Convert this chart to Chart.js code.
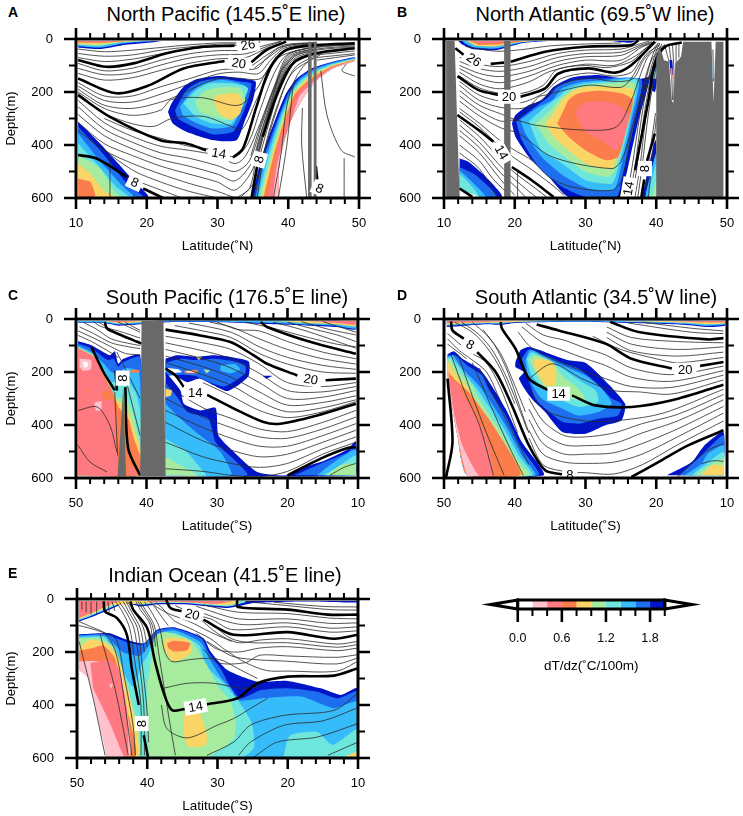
<!DOCTYPE html>
<html>
<head>
<meta charset="utf-8">
<script src="https://cdn.jsdelivr.net/npm/chart.js@4"></script>
<style>
  html, body { margin: 0; background: #fff; }
  body { position: relative; width: 743px; height: 816px; overflow: hidden; font-family: "Liberation Sans", sans-serif; }
  canvas { position: absolute; }
  .title, .letter { position: absolute; white-space: nowrap; color: #000; line-height: 1; }
  .title { font-size: 20px; transform: translate(-50%, -50%); }
  .letter { font-size: 14px; font-weight: bold; transform: translateY(-50%); }
</style>
</head>
<body>
<script>
"use strict";
//gradient bins, lower bound of each class
const binStarts = [0, 0.2, 0.4, 0.6, 0.8, 1.0, 1.2, 1.4, 1.6, 1.8];
const binColors = ["#ffffff", "#ffc2cc", "#ff7a80", "#fa7d4b", "#fad566", "#a6eb9e", "#6ee6dc", "#36bcfa", "#1e6ef0", "#0014c8"];
const barTicks = [0, 0.2, 0.4, 0.6, 0.8, 1.0, 1.2, 1.4, 1.6, 1.8, 2.0];
const latTicks = [10, 20, 30, 40, 50];
const depthTicks = [0, 200, 400, 600];

//panel A, all pairs are latitude, depth
const aFills = [
  [1.8, [10.3,8, 22,8, 21,12, 17,22, 13.5,38, 10.3,32]],
  [1.4, [10.3,8, 21,8, 17,16, 13.5,32, 10.3,27]],
  [1.0, [10.3,8, 19,8, 16,14, 13,26, 10.3,22]],
  [0.8, [10.3,8, 19,8, 16,12, 13,20, 10.3,18]],
  [0.6, [10.3,8, 17,8, 14,14, 10.3,14]],
  [0.4, [11,8, 16,8, 15,10, 12,12]],
  [1.8, [23,275, 23.5,243, 25.2,180, 27,152, 30.3,140, 33.6,150, 35.4,161, 35,231, 33.9,306, 32.7,382, 29.4,382, 25.6,350, 23.7,319, 23,275]],
  [1.6, [24,268, 25.6,193, 27.5,161, 30.3,149, 33.4,161, 34.8,168, 34.3,231, 33.2,306, 32.2,350, 29.4,360, 26.1,325, 24.4,299, 24,268]],
  [1.4, [24.7,256, 26.1,205, 28,168, 30.8,155, 34.1,180, 33.4,256, 32.2,325, 29.4,338, 26.6,312, 25.1,287, 24.7,256]],
  [1.2, [25.2,243, 27,193, 28.9,168, 32.2,168, 34.3,186, 33.4,249, 32,319, 29.4,319, 27,294, 25.2,243]],
  [1.0, [26.8,237, 28,199, 29.9,183, 33.2,186, 33.9,231, 32.9,287, 31.7,306, 29.4,294, 27.5,275, 26.8,237]],
  [0.8, [29.4,231, 29.9,212, 32.7,205, 33.5,231, 33.2,281, 32,304, 30.3,281, 29.4,231]],
  [1.8, [10.3,312, 13.4,394, 18.1,533, 20.2,596, 10.3,596]],
  [1.6, [10.3,331, 13.4,420, 17.6,558, 19.5,596, 10.3,596]],
  [1.4, [10.3,356, 12.9,445, 16.7,558, 18.1,596, 10.3,596]],
  [1.2, [10.3,394, 12.9,470, 15.7,558, 17.4,596, 10.3,596]],
  [1.0, [10.3,438, 13.4,489, 15.5,577, 16.4,596, 10.3,596]],
  [0.8, [10.3,470, 12,508, 13.9,571, 15.3,596, 10.3,596]],
  [0.6, [10.3,527, 12,539, 12.7,596, 10.3,596]],
];
const aFrontBase = [38.6,596, 38.8,457, 40.2,319, 41.9,231, 44,155, 46.3,111, 49.4,82];
const aFront = [
  [1.8, [34.8,600, 36.4,432, 38.3,294, 39.7,205, 41.2,149, 43.3,111, 46.3,86, 49.4,69]],
  [1.6, [35.1,600, 36.7,432, 38.6,294, 40,205, 41.5,149, 43.5,113, 46.3,88, 49.4,71]],
  [1.4, [35.4,600, 37,432, 38.8,294, 40.2,205, 41.7,152, 43.7,116, 46.3,91, 49.4,73]],
  [1.2, [35.7,600, 37.3,432, 39,294, 40.4,205, 41.9,155, 43.9,120, 46.3,94, 49.4,75]],
  [1.0, [36,600, 37.6,432, 39.2,294, 40.6,205, 42.1,158, 44,124, 46.3,96, 49.4,76]],
  [0.8, [36.2,600, 37.8,432, 39.4,294, 40.8,205, 42.2,162, 44.1,128, 46.3,99, 49.4,77]],
  [0.6, [36.5,600, 38,432, 39.6,294, 41,205, 42.4,166, 44.2,132, 46.3,102, 49.4,78]],
  [0.4, [37,600, 38.1,480, 38.6,400, 40,294, 41.3,205, 42.6,170, 44.3,136, 46.3,105, 49.4,80]],
  [0.2, [37.8,600, 38.4,480, 39.4,380, 40.6,294, 41.6,215, 43,175, 44.5,142, 46.3,108, 49.4,81]],
];
const aThick = [
  [10.3,79, 14.3,105, 18.1,92, 22.8,54, 27.5,31, 32.4,25],
  [10.3,149, 15.7,205, 20.4,174, 25.2,111, 31,83],
  [34.8,88, 36.9,42, 39.7,10],
  [10.3,212, 14.8,294, 21.9,382, 25.6,394, 28.4,420],
  [32.2,447, 33.6,413, 35.5,256, 37.4,111, 39.7,42, 44,23, 49.4,16],
  [10.3,438, 12.9,451, 17.2,520],
  [19.5,564, 22.3,600],
  [34.8,600, 35.6,480],
  [36.4,369, 38.3,218, 40.7,92, 44,54, 49.4,35],
  [43.9,480, 44.1,530],
];
const aThin = [
  [10.3,38, 14,48, 18,42, 22,32, 26,22, 30,15, 33,14, 36,10],
  [10.3,55, 14,65, 18,60, 22,42, 26,30, 30,20, 33,18, 36,12],
  [10.3,70, 14,85, 18,76, 22,56, 26,38, 30,27, 33,24],
  [10.3,92, 14,120, 18,110, 22,80, 26,56, 30,44, 34,42, 37,22, 39,8],
  [10.3,111, 14,135, 18,128, 22,98, 26,72, 30,60, 34,56, 37,28, 39,10],
  [10.3,130, 14,155, 18,146, 22,118, 26,92, 30,75, 34,70, 37,34, 39.5,12],
  [10.3,165, 14,215, 18,215, 22,180, 26,150, 30,118, 33,112, 35.5,112, 37,70, 39,30, 44,12],
  [10.3,178, 14,232, 18,238, 22,208, 26,170, 30,132, 33,125, 35.8,130, 37.5,80, 39.5,34, 44,15],
  [10.3,190, 14,250, 18,262, 22,238, 24,218, 27,180, 30,150, 33,148, 36,150, 37.8,90, 39.7,38, 44,18],
  [10.3,200, 14,262, 18,288, 22,268, 23.5,228, 28,222, 32,250, 33.5,245, 35.5,190, 37,120, 39,50, 44,20],
  [10.3,205, 14,280, 18,320, 21,330, 23.5,300, 28,292, 32,330, 33.5,340, 35.5,230, 36.8,160, 38.6,70, 44,26],
  [14,300, 18,345, 22,375, 26,405, 30,420, 32.5,445, 34.4,390, 36,270, 38,130, 39.9,58, 44,30, 49.4,20],
  [10.3,232, 14,316, 18,368, 22,405, 26,420, 30,440, 32.5,470, 34,440, 36,320, 38,180, 40,60, 44,32, 49.4,22],
  [10.3,256, 14,340, 18,390, 22,430, 26,450, 30,478, 32.5,500, 34.5,460, 36.3,320, 38.3,170, 40.3,68, 44,38, 49.4,26],
  [10.3,285, 14,365, 18,415, 22,455, 26,480, 30,510, 32.5,535, 35,460, 36.5,340, 38.6,170, 40.6,72, 44,42, 49.4,30],
  [10.3,315, 14,395, 18,440, 22,480, 26,510, 30,540, 32.5,570, 35,490, 36.8,330, 39,160, 40.9,80, 44,48],
  [10.3,345, 14,420, 18,470, 22,510, 26,545, 30,575, 32.5,600],
  [13,400, 18,495, 22,540, 26,575, 30,600],
  [17,520, 22,570, 25,600],
  [33.2,600, 35.2,540, 36,440, 37.8,270, 39.3,140, 41,75],
  [32.7,600, 34.6,560, 35.8,390, 37.6,240, 39,120, 40.8,68],
  [37.9,600, 39,430, 39.8,250, 41,150, 42.6,90, 44.5,60],
  [14.8,440, 14.8,596],
  [38.6,600, 39.8,400, 40.7,168],
  [42.6,596, 41.9,400, 42,260],
  [44.6,120, 45.5,290, 47.5,420, 49.4,445],
  [47.9,450, 47.9,596],
  [48.2,95, 47.6,120, 49.4,140],
  [34.7,440, 36.15,320, 38.15,175, 40.15,64, 44,35],
  [34.9,470, 36.4,330, 38.45,170, 40.45,70, 44,40],
  [35.2,480, 36.65,335, 38.8,165, 40.75,76, 44,45],
  [35.5,470, 36.95,320, 39.1,150, 41,80, 44,50],
  [35.6,600, 36.8,400, 38.6,240, 40.9,110, 44,60],
  [35.2,600, 36.6,430, 38.4,265, 40.5,130, 44,66],
  [34.9,100, 37,60, 39.5,22, 44,14],
  [35.2,110, 37.2,70, 39.7,26, 44,16],
  [44,60, 49.4,45],
  [44,70, 49.4,55],
  [44,80, 49.4,60],
];
const aGray = [
  [42.8,10, 43.3,10, 43.3,596, 42.8,596],
  [43.6,10, 44,10, 44,596, 43.6,596],
];
const aLabels = [[34.3,23,"26",-10], [33,92,"20",10], [30.2,432,"14",10], [35.9,455,"8",-75], [18.3,542,"8",25], [44.4,564,"8",25]];

//panel B
const bFills = [
  [1.8, [12,8, 24.5,8, 21,16, 17.3,42, 14,38, 12.5,20]],
  [1.4, [12.6,8, 24,8, 21,13, 17.3,36, 14.2,32, 13,18]],
  [0.8, [13.2,8, 22.5,8, 20,14, 17.3,28, 14.5,26]],
  [0.6, [13.5,8, 21,8, 18,20, 15,22]],
  [0.4, [13.8,8, 20.5,8, 17.5,14, 15,16]],
  [1.8, [33.8,8, 37,8, 36.5,14, 35,12]],
  [1.8, [19.6,319, 20.1,287, 22,249, 23.8,231, 25.5,180, 28.1,145, 31.8,136, 35.1,149, 37.9,150, 39.1,145, 37.5,306, 35.6,533, 34.9,596, 27.6,596, 24.8,520, 22,445, 20.1,369, 19.6,319]],
  [1.6, [20.2,312, 22.9,256, 24.8,218, 26,180, 28.5,155, 32.3,149, 37.9,153, 37,306, 35.1,533, 34.4,596, 30,596, 26.7,558, 23.4,483, 21,382, 20.2,312]],
  [1.4, [20.8,306, 23.4,256, 25.3,231, 26.7,186, 29,165, 32.8,155, 37.5,153, 36.5,306, 34.6,533, 33.9,571, 30.4,564, 27.1,520, 23.8,445, 21.5,357, 20.8,306]],
  [1.2, [22,312, 24.3,256, 26.2,218, 27.6,186, 30,168, 33.2,161, 37.2,155, 36.3,306, 34.4,508, 33.7,546, 30,533, 26.7,470, 23.8,420, 22,312]],
  [1.0, [22.9,319, 24.8,275, 26.7,218, 28.1,193, 30,174, 33.7,168, 37,168, 36,306, 34.2,495, 33.2,520, 30,501, 27.1,445, 24.8,394, 22.9,319]],
  [0.8, [24.3,319, 25.3,287, 26.7,231, 28.3,193, 30.4,180, 34.2,180, 36.8,193, 35.8,331, 33.9,483, 32.8,489, 30,470, 27.6,420, 25.5,369, 24.3,319]],
  [0.6, [26,319, 26.7,281, 27.6,231, 29,205, 31.8,195, 35.1,205, 36.7,231, 35.6,357, 34.6,445, 32.8,457, 30,420, 27.6,369, 26,319]],
  [0.4, [28.6,281, 29,256, 30.4,237, 32.8,237, 35.1,256, 36.1,287, 35.8,331, 35.1,394, 34.2,420, 32.3,382, 30,350, 28.6,281]],
  [1.8, [12.2,451, 13.5,464, 15.9,520, 18.2,596, 12.2,596]],
  [1.6, [12.2,483, 14.5,514, 17.5,596, 12.2,596]],
  [1.4, [12.2,495, 13.5,527, 15.9,596, 12.2,596]],
  [1.2, [12.2,508, 14,558, 14.9,596, 12.2,596]],
  [0, [12.2,570, 15,596, 12.2,596]],
  [1.8, [38,596, 39.9,380, 40,596]],
  [1.4, [38.4,596, 40,430, 40,596]],
  [1.2, [38.8,596, 40,470, 40,596]],
  [1.0, [39.4,596, 40,530, 40,596]],
  [1.8, [39,145, 40.4,75, 40,180, 39.8,200, 39.4,195]],
  [1.2, [39.3,150, 40.3,90, 40,150]],
];
const bThick = [
  [11.6,35, 12.8,60],
  [16.6,94, 18.5,89],
  [19.4,86, 24.3,48, 30,29, 36.5,23, 37.5,4],
  [11.9,140, 14.9,193, 18,212],
  [20.8,218, 24.3,186, 26.2,130, 30.4,111, 34.2,127, 36.5,98, 39.8,10],
  [11.9,287, 14.9,344, 17,388],
  [19.6,483, 22.4,533, 25.5,596],
  [37,495, 38.9,231, 39.8,92, 41.2,29, 43.6,13],
  [37.9,596, 38.3,530],
  [38.7,460, 39.8,357],
  [12.2,564, 14,596],
  [34.8,596, 35.2,570],
];
const bThin = [
  [13,28, 17.3,46, 21,40, 25,26, 30,19, 35,15],
  [12.2,70, 15,95, 18,104, 22,85, 26,55, 30,42, 35,38, 37.5,20, 39,8],
  [12.2,85, 15,112, 18,122, 22,104, 26,70, 30,55, 35,50, 37.6,25, 39.4,10],
  [12.2,100, 15,130, 18,142, 22,122, 26,85, 30,67, 35,62, 37.8,28, 39.6,12],
  [12.2,112, 15,148, 18,165, 22,140, 26,100, 30,80, 35,80, 38,30, 39.8,14],
  [12.2,125, 15,170, 18,188, 22,162, 25,122, 30,95, 34,100, 37,65, 39.5,14],
  [12.2,160, 15,212, 18,235, 21,240, 24,205, 26.5,150, 30.4,128, 34,140, 36.5,125, 38,65, 40,12],
  [12.2,175, 15,232, 18,258, 21,262, 23.5,235, 26.5,172, 30.4,148, 34,160, 36.7,150, 38.2,80, 40.2,18],
  [12.2,195, 15,250, 18,282, 20.3,300, 23.4,218, 24.3,212, 30.4,174, 34.9,183, 36.3,155, 38.5,60, 40.5,22],
  [12.2,215, 15,270, 18,310, 20.1,306, 22.9,325, 30,344, 34.4,331, 36.5,231, 37.5,155, 39,60, 41,26],
  [12.2,235, 15,290, 18,335, 20.6,357, 25.3,445, 33.7,489, 35.1,457, 37,294, 38.3,160, 39.5,70, 41.5,30],
  [12.2,262, 15,318, 18,385, 20,420, 22.5,460, 24.8,520, 28,558, 33.7,571, 35.1,533, 36.5,357, 38.5,180, 40,70],
  [12.2,275, 15,332, 18,410, 20,450, 22.5,495, 25,545, 27,590],
  [12.2,305, 15,368, 18,455, 20,505, 23,565, 24.5,596],
  [12.2,325, 15,390, 18,480, 20,530, 22,575, 23,596],
  [12.2,345, 15,410, 18,505, 20,555, 21.5,596],
  [12.2,365, 15,430, 18,530, 20,590],
  [12.2,400, 15,460, 17,530, 19.5,596],
  [12.2,430, 15,490, 17.5,596],
  [36.2,596, 37,480, 37.9,300, 38.8,160, 39.8,60, 40.5,15],
  [36.6,596, 37.3,480, 38.2,300, 39.1,160, 40,60, 40.8,18],
  [37,596, 37.7,480, 38.5,300, 39.3,160, 40.2,60, 41.2,20],
  [37.4,596, 38,480, 38.8,300, 39.6,160, 40.5,60, 41.6,22],
  [38.4,596, 39.1,430, 39.9,280],
  [38.9,596, 39.5,430, 40,300],
  [20.4,500, 20.4,596],
  [40.5,30, 41,80],
  [41.2,25, 41.8,85],
  [41.8,22, 42.1,90, 42.3,230],
  [42.3,20, 42.5,120, 42.5,230],
  [42.8,16, 42.8,100],
  [43.2,14, 43.2,70],
  [48,40, 48.1,160],
  [12.2,140, 15,185, 18,205, 21,205, 24,175, 26,115, 30,100, 33,108, 36.5,85, 38.5,35, 40,12],
  [35.8,596, 36.6,480, 37.6,300, 38.5,160, 39.5,60, 40.3,14],
];
const bColorBits = [
  [1.8, [41.85,80, 42.25,80, 42.35,135, 42.05,135]],
  [0.6, [42,110, 42.25,110, 42.3,150, 42.1,150]],
  [1.4, [47.95,100, 48.15,100, 48.15,150, 48,150]],
];
const bGray = [
  [10.3,8, 11.5,8, 12.2,596, 10.3,596],
  [18.5,8, 19.4,8, 19.4,596, 18.5,596],
  [40,596, 40,73, 40.5,29, 41,79, 41.8,86, 42.2,231, 42.4,243, 42.7,92, 43.5,67, 43.8,10, 47.8,10, 48.1,240, 48.4,10, 49.5,10, 49.5,596],
];
const bLabels = [[14.2,79,"26",35], [19.2,218,"20",0], [18.1,428,"14",60], [36.1,564,"14",-80], [38.4,489,"8",-90]];

//panel C
const cFills = [
  [1.8, [49.7,8, 10.3,8, 10.3,40, 13,30, 17,25, 24,18, 30,12, 37,12, 42,22, 44,25, 46,15, 49.7,14]],
  [1.4, [49.7,8, 10.3,8, 10.3,36, 13,26, 17,21, 24,14, 30,10, 37,10, 42,18, 44,21, 46,13, 49.7,12]],
  [0.8, [46,8, 10.3,8, 10.3,28, 13,20, 17,16, 20,10, 38,8, 42,14, 44,17]],
  [0.4, [45.5,8, 41,8, 44,13]],
  [0.4, [17,8, 10.3,8, 10.3,22, 13,15]],
  [1.8, [49.7,84, 47.8,99, 45.2,137, 44.5,122, 44,169, 43.3,150, 40.9,137, 40.9,590, 49.7,590]],
  [1.6, [49.7,92, 47.8,110, 45.5,155, 44.7,150, 44,180, 43.5,165, 40.9,145, 40.9,590, 49.7,590]],
  [1.4, [49.7,100, 47.8,125, 46,170, 45,200, 44,205, 43,185, 41.2,195, 40.9,240, 40.9,590, 49.7,590]],
  [1.2, [49.7,105, 47.6,135, 45.8,200, 45,240, 44,230, 42.8,230, 41.5,280, 40.9,350, 40.9,590, 49.7,590]],
  [1.0, [49.7,108, 47.4,140, 45.6,220, 44.8,280, 44,300, 43,300, 42,350, 41.2,440, 40.9,470, 40.9,590, 49.7,590]],
  [0.8, [49.7,110, 47.3,145, 45.5,230, 44.7,300, 43.5,320, 42.5,360, 41.5,440, 40.9,490, 40.9,590, 49.7,590]],
  [0.6, [49.7,115, 47.2,150, 45.5,240, 44.7,280, 44,330, 43.5,350, 42.5,380, 41.8,450, 40.9,520, 40.9,590, 49.7,590]],
  [0.4, [49.7,110, 47.3,145, 46,220, 45,290, 44.5,330, 44.3,430, 44.2,520, 44.1,590, 49.7,590]],
  [0.6, [46.4,275, 45.5,270, 45,305, 45.8,305, 46.2,300]],
  [0.6, [48.8,265, 48.4,265, 48.5,280]],
  [0.2, [49.5,150, 47.9,155, 47.9,190, 49,195, 49.5,180]],
  [0, [49,160, 48.3,165, 48.4,180, 48.9,182]],
  [0.2, [47.4,315, 46.4,310, 46.5,345, 47.2,345]],
  [0.4, [42.5,540, 41.5,590, 42.5,590]],
  [0.6, [42.3,192, 41,192, 41,202, 42.3,202]],
  [1.8, [37.3,150, 35.7,137, 32.8,143, 30.5,137, 28.1,143, 25.5,160, 25.5,213, 26.7,244, 28.6,272, 30.5,250, 32.4,225, 34.3,238, 37.3,187]],
  [1.6, [37.3,165, 35,150, 33,155, 30.5,150, 28,158, 26,175, 26,205, 27.5,235, 29,255, 31,240, 33,215, 35,210, 37.3,215]],
  [1.4, [29.5,175, 27.5,170, 26.7,190, 28,205, 29.5,195]],
  [0.6, [34.6,195, 32.8,192, 32.8,205, 34.6,205]],
  [0, [34.3,197, 33.2,197, 33.2,202, 34.3,202]],
  [0.8, [33,142, 32.2,145, 32.6,155]],
  [1.0, [31.9,190, 31,195, 31.5,205]],
  [1.8, [23.5,215, 22.2,215, 23,225]],
  [1.8, [37.3,200, 35.2,269, 34.7,320, 32.4,345, 30.2,336, 29.8,439, 27.6,502, 24.3,577, 20,590, 18.1,562, 15.3,540, 11.5,492, 10.3,462, 10.3,590, 37.3,590]],
  [1.6, [37.3,240, 35.5,300, 34.2,350, 31.2,376, 30.2,465, 28,520, 25.7,590, 37.3,590]],
  [1.6, [19,590, 15.3,546, 11.5,504, 10.3,475, 10.3,590]],
  [1.4, [37.3,320, 35.2,376, 32.4,439, 29.5,502, 28,590, 37.3,590]],
  [1.4, [15.8,590, 13.4,540, 10.3,494, 10.3,590]],
  [1.2, [37.3,452, 34.3,502, 31.9,577, 31.5,590, 37.3,590]],
  [1.2, [15,590, 13,560, 10.3,515, 10.3,590]],
  [1.0, [37.3,520, 35.2,552, 32.8,590, 37.3,590]],
  [1.0, [14.4,590, 12.5,552, 10.3,546, 10.3,590]],
  [0, [37,185, 35.5,190, 35,200, 36.5,205]],
  [0.8, [37.3,262, 36.4,270, 36.6,290, 37.3,295]],
];
const cThick = [
  [45.9,11, 45.6,36, 43.5,62, 40.7,93],
  [37.3,40, 32.4,62, 28.1,87, 24.8,137, 22.9,169, 18.6,213],
  [14.6,231, 10.3,225],
  [23.8,11, 22.9,30, 16.7,87, 10.3,131],
  [37.3,187, 35.9,213, 34.7,257],
  [31.4,286, 27.6,338, 23.4,389, 21,395, 15.8,364, 10.3,320],
  [47.8,106, 46.1,200, 44.5,269],
  [44.2,270, 44.4,195],
  [43,257, 42.6,489, 40.9,590],
  [20,590, 15.3,527, 11.5,487, 10.3,484],
];
const cThin = [
  [47.5,10, 46.5,28, 44,45, 40.9,72],
  [44,12, 42.5,30, 40.9,50],
  [49.5,30, 47.5,55, 45,90, 42.5,105, 40.9,112],
  [49.7,45, 47.5,72, 45,105, 43,130, 40.9,135],
  [49.7,62, 47.8,85, 45.5,120, 44,145],
  [49.7,345, 47,332, 45.2,401, 44.2,502],
  [49.7,477, 48,540, 45.6,577],
  [44.2,125, 40.9,300],
  [43.2,200, 40.9,440],
  [44.5,275, 44.1,515],
  [30,12, 27,40, 24,45, 20,85, 15,125, 10.3,150],
  [31,12, 28,30, 24,75, 20,115, 15,150, 10.3,170],
  [34,15, 28,50, 24,105, 20,145, 15,175, 10.3,190],
  [36,25, 32,45, 28,70, 24,130, 20,170, 15,200, 10.3,205],
  [18,10, 14,40, 10.3,60],
  [15,10, 12,35, 10.3,50],
  [26,12, 22,35, 17,70, 13,95, 10.3,105],
  [37.3,65, 32,90, 28,115, 24,170, 20,240, 15,255, 10.3,240],
  [37.3,90, 32,120, 28,150, 24,205, 20,270, 15,275, 10.3,255],
  [37.3,115, 32,150, 28,185, 24,240, 20,300, 15,295, 10.3,270],
  [37.3,140, 32,180, 28,220, 24,275, 20,325, 15,315, 10.3,290],
  [37.3,165, 32,210, 28,250, 24,310, 20,350, 15,335, 10.3,305],
  [32,240, 28,290, 24,345, 20,372, 15,350, 10.3,312],
  [37.3,250, 32,335, 28,375, 24,415, 20,425, 15,390, 10.3,345],
  [37.3,300, 32,370, 28,410, 24,445, 20,450, 15,415, 10.3,370],
  [37.3,345, 32,410, 28,450, 24,480, 20,480, 15,440, 10.3,395],
  [37.3,390, 32,460, 28,495, 24,520, 20,510, 15,465, 10.3,420],
  [37.3,465, 32,520, 28,545, 24,560, 20,545, 15,490, 10.3,445],
  [37.3,565, 32,575, 28,590, 24,595, 20,575, 15,510, 10.3,465],
  [14,590, 12,560, 10.3,545],
  [49,12, 47,40, 45,75, 42,95, 40.9,100],
  [46.8,12, 45,40, 43,72, 40.9,85],
  [43,12, 41.5,35, 40.9,42],
  [20,12, 16,40, 13,60, 10.3,85],
  [22,12, 18,40, 14,75, 10.3,110],
];
const cGray = [
  [40.7,8, 37.6,8, 37.3,592, 40.9,592],
  [43.3,255, 42.9,592, 44.1,592],
];
const cLabels = [[43.4,223,"8",-90], [33.1,278,"14",0], [16.7,228,"20",10]];

//panel D
const dFills = [
  [1.8, [49.6,8, 10.3,8, 10.3,25, 13,30, 16,22, 24,15, 31,10, 37,12, 40,15, 42,22, 44,20, 47,25, 49.6,30]],
  [1.4, [49.6,8, 10.3,8, 10.3,21, 13,26, 16,18, 24,12, 31,9, 37,10, 40,12, 42,18, 44,17, 47,21, 49.6,26]],
  [0.8, [49.6,8, 10.3,8, 10.3,17, 13,20, 16,14, 24,9, 36,8, 42,14, 44,14, 47,17, 49.6,21]],
  [0.4, [49.6,8, 40,8, 44,11, 47,13, 49.6,15]],
  [0.4, [18,8, 10.3,8, 10.3,13, 14,12]],
  [1.8, [39.9,162, 39.2,118, 38,106, 35.7,125, 32.4,156, 30,165, 27.5,225, 24.4,320, 24.9,382, 27.2,401, 30,433, 33.3,426, 35.7,351, 37.6,301, 39.4,225, 38.7,200, 39.9,181, 39.9,162]],
  [1.6, [39,150, 38,114, 35.7,137, 32.9,169, 31,187, 28.6,238, 26.3,300, 24.9,320, 25.4,364, 28.2,376, 31,395, 33.3,388, 35.7,338, 37.1,301, 39,150]],
  [1.4, [38.5,156, 37.8,118, 35.7,143, 33.3,175, 30,213, 27.7,263, 26.3,320, 28.2,351, 31,364, 33.8,332, 36.2,301, 38,225, 38.5,156]],
  [1.2, [38.3,150, 37.6,125, 35.7,150, 33.3,187, 30.5,238, 28.6,269, 28.2,313, 31,332, 33.3,307, 35.7,269, 37.6,213, 38.3,150]],
  [1.0, [38,150, 37.1,137, 34.7,162, 33.3,213, 31,263, 30,301, 31.9,301, 33.8,269, 35.7,263, 37.1,200, 38,150]],
  [0.8, [37.3,175, 37.1,150, 34.7,162, 34.2,200, 34.3,250, 35.7,250, 36.6,213, 37.3,175]],
  [1.8, [18.5,590, 15,540, 13.2,477, 10.5,426, 10.5,590]],
  [1.6, [16.9,590, 14.1,527, 12.7,489, 10.5,439, 10.5,590]],
  [1.4, [16,590, 13.6,546, 12.7,508, 10.5,477, 10.5,590]],
  [1.2, [15,590, 13.2,552, 10.5,502, 10.5,590]],
  [1.0, [14.6,590, 13.2,565, 10.5,527, 10.5,590]],
  [0.8, [13.6,590, 12.2,552, 10.5,555, 10.5,590]],
];
const dFrontBase = [49.5,133, 49.5,200, 48.8,338, 48.1,439, 46.7,590];
const dFront = [
  [1.8, [49.5,133, 48.6,122, 47.4,150, 45.1,187, 43.9,225, 41.3,338, 39,464, 35.9,590]],
  [1.6, [49.5,137, 48.4,137, 46.7,175, 44.6,212, 43.7,263, 41.3,364, 39,489, 36.6,590]],
  [1.4, [49.5,143, 48.8,137, 47.4,187, 45.1,250, 43.7,300, 41.3,401, 39,514, 37.1,590]],
  [1.2, [49.5,150, 49,145, 47.4,195, 45.3,265, 43.9,320, 41.6,410, 39.3,520, 37.5,590]],
  [1.0, [49.5,158, 49.2,150, 48,195, 46,250, 45.3,290, 44,345, 41.9,425, 39.6,530, 37.9,590]],
  [0.8, [49.5,170, 49.3,165, 48.2,215, 47,245, 46,290, 44.5,345, 42.5,425, 40.3,530, 38.7,590]],
  [0.6, [49.5,195, 48.4,230, 46.5,275, 43.7,376, 40.4,514, 39.2,590]],
  [0.4, [49.5,225, 48.4,238, 47.2,288, 44.1,439, 43.2,540, 43,590]],
  [0.2, [49.3,238, 48.4,376, 47.4,477, 45.5,577, 45,590]],
];
const dThick = [
  [49.5,225, 48.8,464, 49.7,596],
  [49,9, 48.8,43, 47.2,74],
  [45.3,125, 42.7,200, 40.4,326, 38,477, 35.7,571, 33.3,586],
  [23.5,596, 19.7,540, 15.5,477, 10.5,420],
  [42,11, 41.8,36, 39.9,112, 38,225, 35.2,269],
  [31.9,288, 28.6,326, 23.5,332, 17.8,307, 10.5,248],
  [36.9,21, 33.8,43, 27.2,93, 23.5,150, 17.8,187],
  [13.8,177, 10.5,162],
  [26.5,11, 22.5,49, 12.7,77, 10.5,72],
];
const dThin = [
  [22,12, 15,35, 10.5,45],
  [24,15, 15,50, 10.5,55],
  [27,30, 23.5,70, 17,85, 10.5,90],
  [27,50, 23.5,95, 17,115, 10.5,105],
  [27,70, 23.5,120, 17,140, 10.5,125],
  [29,65, 25,115, 20,150, 17,165, 10.5,145],
  [38.5,15, 36,60, 33,80, 30,110, 27.2,135, 23.5,185, 17.8,210, 10.5,178],
  [39,30, 36,90, 33,120, 30,150, 27.2,175, 23.5,220, 17.8,235, 10.5,195],
  [39.5,50, 38,100, 36,135, 33,170, 30,200, 27.2,225, 23.5,255, 17.8,258, 10.5,212],
  [38,225, 34.7,169, 30.5,225, 26.3,269, 22.5,275, 17.8,283, 10.5,230],
  [38,260, 35.7,345, 30,385, 25,382, 19,355, 10.5,265],
  [38,300, 36,385, 33,440, 30,445, 26,430, 22,395, 17,360, 10.5,285],
  [38,340, 36,430, 33,475, 30,478, 26,470, 22,430, 17,385, 10.5,305],
  [38,380, 36,470, 33,510, 30,510, 26,505, 22,470, 17,415, 10.5,330],
  [38,420, 36,510, 33,540, 30,545, 26,540, 22,510, 17,445, 10.5,355],
  [38,450, 36,550, 33,575, 30,580, 26,585, 22,550, 17,475, 10.5,385],
  [46,12, 44,60, 42,130, 40,250, 38.5,350],
  [47.5,12, 45,60, 43,125, 41,230, 39.5,330, 38.2,420],
  [48.5,12, 46,50, 44,105, 42,190, 40,320],
  [49.5,55, 47.5,100, 46,130, 44,165, 42,260, 39.6,430],
  [49.5,75, 47.8,120, 46.5,145, 44,200, 42,310],
  [49.5,95, 48,125, 46.8,150],
  [49,135, 47,280, 45,400, 43,590],
  [48,135, 46,290, 44,430, 41.5,590],
  [46,165, 43.5,320, 41,470, 38.8,590],
  [45,185, 43,290, 41,390, 38,550],
  [44.5,40, 42.8,100, 41,200, 39.3,330, 38,430],
  [17,596, 13,500, 10.5,470],
  [13.6,546, 12,535, 10.5,537],
];
const dLabels = [[46.3,97,"8",30], [33.8,282,"14",0], [15.9,191,"20",0], [32.2,587,"8",0]];

//panel E
const eFills = [
  [1.8, [49.7,133, 46.7,129, 45.3,129, 42.9,154, 40.5,167, 38.6,116, 36.2,107, 32,148, 31,198, 28.6,268, 24.3,312, 20,309, 15.3,337, 12.4,362, 10,337, 10,595, 49.7,595]],
  [1.6, [49.7,136, 46,133, 43,162, 40.6,172, 38.6,120, 36.2,110, 32.2,150, 31.3,200, 29.5,265, 28.2,330, 26.7,375, 23.9,344, 20,337, 15.8,350, 12.9,375, 10,350, 10,595, 49.7,595]],
  [1.4, [49.7,140, 46,140, 43.5,200, 41,215, 40.2,190, 38.4,130, 36.2,118, 32.4,163, 31.2,224, 29.6,293, 28.1,337, 27,383, 23.4,374, 18.1,368, 13.4,412, 10,387, 10,595, 49.7,595]],
  [1.2, [49.7,145, 46,145, 44.5,230, 42,330, 40.8,250, 40,215, 38.5,140, 36.2,128, 32.6,175, 31.7,250, 29.4,310, 27,385, 25.1,470, 24.8,560, 26.4,595, 49.7,595]],
  [1.2, [20.6,595, 19.7,515, 15.8,502, 13.6,551, 10,490, 10,595]],
  [1.0, [39.8,590, 40,337, 39.3,211, 38.6,135, 37.2,125, 33.9,154, 32.4,211, 31.5,249, 30,325, 28.1,388, 27.4,470, 27.7,527, 31.5,595, 39.8,595]],
  [1.0, [49.7,148, 46.7,148, 44.6,186, 42.7,337, 41,595, 49.7,595]],
  [0.8, [49.7,179, 48.1,154, 45.8,167, 44.1,224, 42.2,400, 41.4,595, 49.7,595]],
  [0.6, [49.7,195, 47.9,186, 46.2,176, 44.6,224, 43.2,388, 41.7,595, 49.7,595]],
  [0.2, [49.7,235, 47,235, 44,262, 42.9,413, 42.6,595, 49.7,595]],
  [0.4, [48.1,242, 45.3,230, 44.1,261, 42.9,413, 42.7,595, 43.3,595, 45.3,470, 47.7,337]],
  [0.2, [45.4,320, 44.9,322, 45.2,340]],
  [0, [49.7,270, 48.4,300, 46.7,489, 46,595, 49.7,595]],
  [0.8, [37.7,186, 37.4,148, 34.3,154, 33.6,198, 35.3,230, 36.5,236]],
  [0.6, [37.2,167, 36.2,158, 33.9,167, 34.3,192, 36.2,198, 37,186]],
  [0.8, [33.9,388, 33,388, 32.4,438, 31.5,514, 31.7,552, 34.1,558, 34.8,514, 34.8,438]],
  [0.8, [12,595, 10,575, 10,595]],
  [1.8, [49.7,8, 10.2,8, 10.2,13, 18,9, 24.8,15, 28.6,34, 34.3,21, 38.6,21, 41,28, 43.1,13, 44.8,34, 47.7,66, 49.7,85]],
  [1.2, [49.7,8, 26,8, 26,12, 28.6,28, 34.3,16, 38.6,16, 41,22, 43.2,10, 44.8,28, 47.7,60, 49.7,80]],
  [0.8, [49.7,8, 27,8, 27,13, 28.6,24, 34.3,13, 38.6,13, 41,18, 45,24, 47.7,55, 49.7,76]],
  [0.4, [49.7,8, 44,8, 45,18, 47.7,50, 49.7,72]],
  [0.4, [40,8, 28,8, 30,18, 36,10, 40,12]],
];
const eThick = [
  [46.2,9, 46,47, 44.3,72, 42.9,135, 42.2,261, 41.2,400],
  [40.5,514, 39.9,596],
  [42.4,9, 42,40, 40,110, 38.9,236, 37.7,350, 36.5,419, 34.6,415],
  [31.5,397, 27.2,375, 24.3,318, 20,293, 13.4,289, 10,261],
  [37.3,4, 36.7,34, 35,47],
  [32,78, 27.7,135, 20,125, 13.4,150, 10,135],
  [27.2,4, 27.1,30, 20,40, 14.3,59, 10,59],
];
const eThin = [
  [49.3,10, 49.3,40],
  [48.7,10, 48.7,50],
  [48,10, 48,58],
  [47.2,10, 47.2,60],
  [45.6,10, 45.4,50],
  [45,10, 44.6,45],
  [49.7,160, 47.7,375, 46,590],
  [46.7,135, 44.6,337, 42.7,590],
  [49.7,85, 48,105, 46,130, 44.5,200, 43.5,340, 42.2,590],
  [49.7,100, 47,120, 44.5,150, 43.3,290, 42,480, 41.7,590],
  [44.5,10, 43.5,50, 42.5,110, 41.8,230, 40.9,400, 40.9,590],
  [44,10, 43,50, 41.9,110, 41.2,230, 40.5,400, 40.4,590],
  [43.4,10, 42.6,50, 41.4,110, 40.8,230, 40.1,400, 39.8,540],
  [41.6,10, 41,40, 39.6,95, 39.2,180],
  [41,10, 40.3,40, 39,100, 38.4,200, 37.5,350, 36.9,450, 36,590],
  [40.4,10, 39.6,40, 38.3,105, 37.5,200, 36.5,236, 34.3,230, 31.9,224, 29.5,230, 26.7,268, 24.3,300],
  [39.6,10, 38.8,35, 37.6,80, 37,100],
  [38.8,12, 38,30, 37,60, 36,85, 34,110, 31,150, 29,190, 26,240, 23,270, 20,272, 13,272, 10,235],
  [37.7,337, 34.3,318, 30.5,318, 26.7,337, 24,330],
  [38,400, 37.2,489, 34.3,524, 30,476, 27.7,451, 25.3,413, 22.9,375],
  [31.5,590, 27.7,540, 25.3,476, 20.5,439, 13.4,420, 10,355],
  [27,590, 25.3,540, 20.5,476, 15,460, 10,410],
  [24.8,596, 21.5,540, 15.8,521, 10,470],
  [14.3,590, 10,540],
  [36,25, 33,65, 30,130, 27,165, 24,155, 20,150, 13,170, 10,160],
  [33,130, 30,190, 27,200, 24,185, 20,180, 13,195, 10,185],
  [32,190, 30,240, 26,240, 24,212, 20,215, 13,220, 10,210],
  [32,22, 27,50, 20,55, 14,72, 10,75],
  [33,28, 27,75, 20,75, 14,92, 10,90],
  [34,35, 27,95, 20,90, 14,110, 10,105],
  [35,50, 31,75, 28,115, 20,105, 14,125, 10,120],
  [26,10, 20,25, 14,40, 10,42],
  [22,12, 15,28, 10,30],
  [43,10, 42.2,50, 41,110, 40.4,200],
  [42.8,10, 41.8,50, 40.6,105, 40,180],
  [41.3,10, 40.6,40, 39.3,98, 38.8,180],
  [31,90, 28,150, 25,165, 20,165, 13,182, 10,172],
  [31.5,160, 28,215, 25,228, 20,235, 13,245, 10,222],
  [39,25, 37,55, 34,85, 31,125, 28,160],
];
const eLabels = [[40.8,470,"8",-90], [33.1,407,"14",-10], [33.6,59,"20",15]];

//turn a flat lat,depth list into points
function toPoints(flat) {
  const pts = [];
  for (let i = 0; i < flat.length; i += 2) {
    pts.push({ x: flat[i], y: flat[i + 1] });
  }
  return pts;
}

function binColor(level) {
  return binColors[binStarts.findIndex((b) => Math.abs(b - level) < 0.01)];
}

function fillSet(level, flat) {
  return {
    data: toPoints(flat),
    showLine: true,
    fill: "shape",
    backgroundColor: binColor(level),
    borderWidth: 0,
    pointRadius: 0,
    tension: 0.2,
  };
}

function grayset(flat) {
  return {
    data: toPoints(flat),
    showLine: true,
    fill: "shape",
    backgroundColor: "#696969",
    borderWidth: 0,
    pointRadius: 0,
  };
}

function lineSet(flat, width, color) {
  return {
    data: toPoints(flat),
    showLine: true,
    fill: false,
    borderColor: color,
    borderWidth: width,
    pointRadius: 0,
    tension: 0.3,
  };
}

//close a front edge against its outer boundary
function bandPolygon(edge, base) {
  const back = [];
  for (let i = base.length - 2; i >= 0; i -= 2) {
    back.push(base[i], base[i + 1]);
  }
  return edge.concat(back);
}

//ticks on all four sides, frame and contour labels
const framePlugin = {
  id: "frame",
  afterDatasetsDraw(chart, args, opts) {
    const ctx = chart.ctx;
    const area = chart.chartArea;
    (opts.labels || []).forEach((lab) => {
      const px = chart.scales.x.getPixelForValue(lab[0]);
      const py = chart.scales.y.getPixelForValue(lab[1]);
      ctx.save();
      ctx.translate(px, py);
      ctx.rotate((lab[3] * Math.PI) / 180);
      ctx.font = "13px 'Liberation Sans'";
      const w = ctx.measureText(lab[2]).width + 8;
      ctx.fillStyle = "#fff";
      ctx.fillRect(-w / 2, -7, w, 14);
      ctx.fillStyle = "#000";
      ctx.textAlign = "center";
      ctx.textBaseline = "middle";
      ctx.fillText(lab[2], 0, 0.5);
      ctx.restore();
    });
    ctx.save();
    ctx.strokeStyle = "#000";
    ctx.lineCap = "butt";
    ctx.lineWidth = 3;
    const xScale = chart.scales.x;
    const frameLeft = opts.barRange ? xScale.getPixelForValue(opts.barRange[0]) : area.left;
    const frameRight = opts.barRange ? xScale.getPixelForValue(opts.barRange[1]) : area.right;
    ctx.strokeRect(frameLeft, area.top, frameRight - frameLeft, area.bottom - area.top);
    xScale.ticks.forEach((t) => {
      const major = t.label !== "";
      const px = xScale.getPixelForValue(t.value);
      const len = major ? opts.majorLen : opts.minorLen;
      ctx.lineWidth = major ? 2.6 : 2;
      ctx.beginPath();
      ctx.moveTo(px, area.bottom);
      ctx.lineTo(px, area.bottom + len);
      if (opts.mirror) {
        ctx.moveTo(px, area.top);
        ctx.lineTo(px, area.top - len);
      }
      ctx.stroke();
    });
    if (opts.mirror) {
      const yScale = chart.scales.y;
      yScale.ticks.forEach((t) => {
        const major = t.label !== "";
        const py = yScale.getPixelForValue(t.value);
        const len = major ? 12 : 7;
        ctx.lineWidth = major ? 2.6 : 2;
        ctx.beginPath();
        ctx.moveTo(area.left - len, py);
        ctx.lineTo(area.left, py);
        ctx.moveTo(area.right, py);
        ctx.lineTo(area.right + len, py);
        ctx.stroke();
      });
    }
    ctx.restore();
  },
};

function addCanvas(left, top, width, height) {
  const c = document.createElement("canvas");
  c.style.left = left + "px";
  c.style.top = top + "px";
  c.style.width = width + "px";
  c.style.height = height + "px";
  c.width = width;
  c.height = height;
  document.body.appendChild(c);
  return c;
}

function addText(cls, text, x, y) {
  const d = document.createElement("div");
  d.className = cls;
  d.textContent = text;
  d.style.left = x + "px";
  d.style.top = y + "px";
  document.body.appendChild(d);
}

const tickFont = { family: "'Liberation Sans'", size: 13 };
const axisFont = { family: "'Liberation Sans'", size: 13.5 };

//the axis label margins would otherwise shrink the plot
function noMargins(s) {
  s.paddingLeft = 0;
  s.paddingRight = 0;
  s.paddingTop = 0;
  s.paddingBottom = 0;
}

//draw one section panel
function drawPanel(p) {
  let sets = [];
  p.fills.forEach((f) => sets.push(fillSet(f[0], f[1])));
  (p.fronts || []).forEach((f) => sets.push(fillSet(f[0], bandPolygon(f[1], p.frontBase))));
  p.thin.forEach((l) => sets.push(lineSet(l, 0.9, "rgba(45,45,45,0.9)")));
  p.thick.forEach((l) => sets.push(lineSet(l, 2.6, "#000")));
  p.gray.forEach((g) => sets.push(grayset(g)));
  (p.bits || []).forEach((f) => sets.push(fillSet(f[0], f[1])));
  //chart.js paints the first dataset on top
  sets = sets.reverse();

  const canvas = addCanvas(p.left, p.top, p.width, p.height);
  new Chart(canvas, {
    type: "scatter",
    data: { datasets: sets },
    plugins: [framePlugin],
    options: {
      animation: false,
      responsive: false,
      layout: { padding: { top: p.padTop, right: p.padRight, left: 0, bottom: 0 } },
      plugins: {
        legend: { display: false },
        tooltip: { enabled: false },
        frame: { labels: p.labels, mirror: true, majorLen: 11, minorLen: 6 },
      },
      scales: {
        x: {
          type: "linear",
          min: 10,
          max: 50,
          reverse: p.south,
          grid: { display: false, drawTicks: false },
          border: { display: false },
          afterFit: (s) => { s.height = 58; noMargins(s); },
          ticks: {
            stepSize: 2,
            autoSkip: false,
            maxRotation: 0,
            padding: 18,
            color: "#000",
            font: tickFont,
            callback: (v) => (latTicks.includes(v) ? String(v) : ""),
          },
          title: {
            display: true,
            text: p.south ? "Latitude(˚S)" : "Latitude(˚N)",
            color: "#000",
            font: axisFont,
            padding: { top: 0, bottom: 2 },
          },
        },
        y: {
          type: "linear",
          min: 0,
          max: 600,
          reverse: true,
          grid: { display: false, drawTicks: false },
          border: { display: false },
          afterFit: (s) => { s.width = p.yWidth; noMargins(s); },
          ticks: {
            stepSize: 100,
            autoSkip: false,
            padding: 23,
            color: "#000",
            font: tickFont,
            callback: (v) => (depthTicks.includes(v) ? String(v) : ""),
          },
          title: {
            display: p.depthTitle,
            text: "Depth(m)",
            color: "#000",
            font: { family: "'Liberation Sans'", size: 13 },
            padding: { top: 4, bottom: 0 },
          },
        },
      },
    },
  });
  addText("title", p.title, p.titleX, p.titleY);
  addText("letter", p.letter, p.letterX, p.titleY - 2);
}

drawPanel({
  fills: aFills, fronts: aFront, frontBase: aFrontBase, thin: aThin, thick: aThick, gray: aGray, labels: aLabels,
  south: false, depthTitle: true, title: "North Pacific (145.5˚E line)", letter: "A",
  left: 0, top: 25, width: 372, height: 231, padTop: 14, padRight: 13, yWidth: 76,
  titleX: 226, titleY: 14, letterX: 8,
});
drawPanel({
  fills: bFills, thin: bThin, thick: bThick, gray: bGray, bits: bColorBits, labels: bLabels,
  south: false, depthTitle: false, title: "North Atlantic (69.5˚W line)", letter: "B",
  left: 372, top: 25, width: 371, height: 231, padTop: 14, padRight: 16, yWidth: 72,
  titleX: 595, titleY: 14, letterX: 397,
});
drawPanel({
  fills: cFills, thin: cThin, thick: cThick, gray: cGray, labels: cLabels,
  south: true, depthTitle: true, title: "South Pacific (176.5˚E line)", letter: "C",
  left: 0, top: 305, width: 372, height: 231, padTop: 14, padRight: 14, yWidth: 76,
  titleX: 227, titleY: 297, letterX: 8,
});
drawPanel({
  fills: dFills, fronts: dFront, frontBase: dFrontBase, thin: dThin, thick: dThick, gray: [], labels: dLabels,
  south: true, depthTitle: false, title: "South Atlantic (34.5˚W line)", letter: "D",
  left: 372, top: 305, width: 371, height: 231, padTop: 14, padRight: 16, yWidth: 72,
  titleX: 596, titleY: 297, letterX: 397,
});
drawPanel({
  fills: eFills, thin: eThin, thick: eThick, gray: [], labels: eLabels,
  south: true, depthTitle: true, title: "Indian Ocean (41.5˚E line)", letter: "E",
  left: 0, top: 585, width: 372, height: 231, padTop: 14, padRight: 14, yWidth: 77,
  titleX: 225, titleY: 575, letterX: 8,
});

//colour bar
const barSets = [];
binStarts.forEach((b, i) => {
  const end = barTicks[i + 1];
  barSets.push({
    data: toPoints([b, 0, end, 0, end, 1, b, 1]),
    showLine: true,
    fill: "shape",
    backgroundColor: binColors[i],
    borderWidth: 0,
    pointRadius: 0,
  });
});
[[0, 0, -0.37, 0.5, 0, 1, 0, 0], [2, 0, 2.37, 0.5, 2, 1, 2, 0]].forEach((tri) => {
  barSets.push({
    data: toPoints(tri),
    showLine: true,
    fill: "shape",
    backgroundColor: "#fff",
    borderColor: "#000",
    borderWidth: 3,
    pointRadius: 0,
    clip: false,
  });
});
new Chart(addCanvas(440, 589, 303, 87), {
  type: "scatter",
  data: { datasets: barSets },
  plugins: [framePlugin],
  options: {
    animation: false,
    responsive: false,
    layout: { padding: { top: 11, left: 41, right: 41.5, bottom: 0 } },
    plugins: {
      legend: { display: false },
      tooltip: { enabled: false },
      frame: { mirror: false, majorLen: 13, minorLen: 7, barRange: [0, 2] },
    },
    scales: {
      x: {
        type: "linear",
        min: -0.5,
        max: 2.5,
        grid: { display: false, drawTicks: false },
        border: { display: false },
        afterBuildTicks: (s) => { s.ticks = barTicks.map((v) => ({ value: v })); },
        afterFit: (s) => { s.height = 67; noMargins(s); },
        ticks: {
          autoSkip: false,
          maxRotation: 0,
          padding: 22,
          color: "#000",
          font: { family: "'Liberation Sans'", size: 12.5 },
          callback: (v, i) => (i % 3 === 0 && i < 10 ? Number(v).toFixed(1) : ""),
        },
        title: {
          display: true,
          text: "dT/dz(˚C/100m)",
          color: "#000",
          font: axisFont,
          padding: { top: 0, bottom: 2 },
        },
      },
      y: { type: "linear", min: 0, max: 1, display: false },
    },
  },
});
</script>
</body>
</html>
